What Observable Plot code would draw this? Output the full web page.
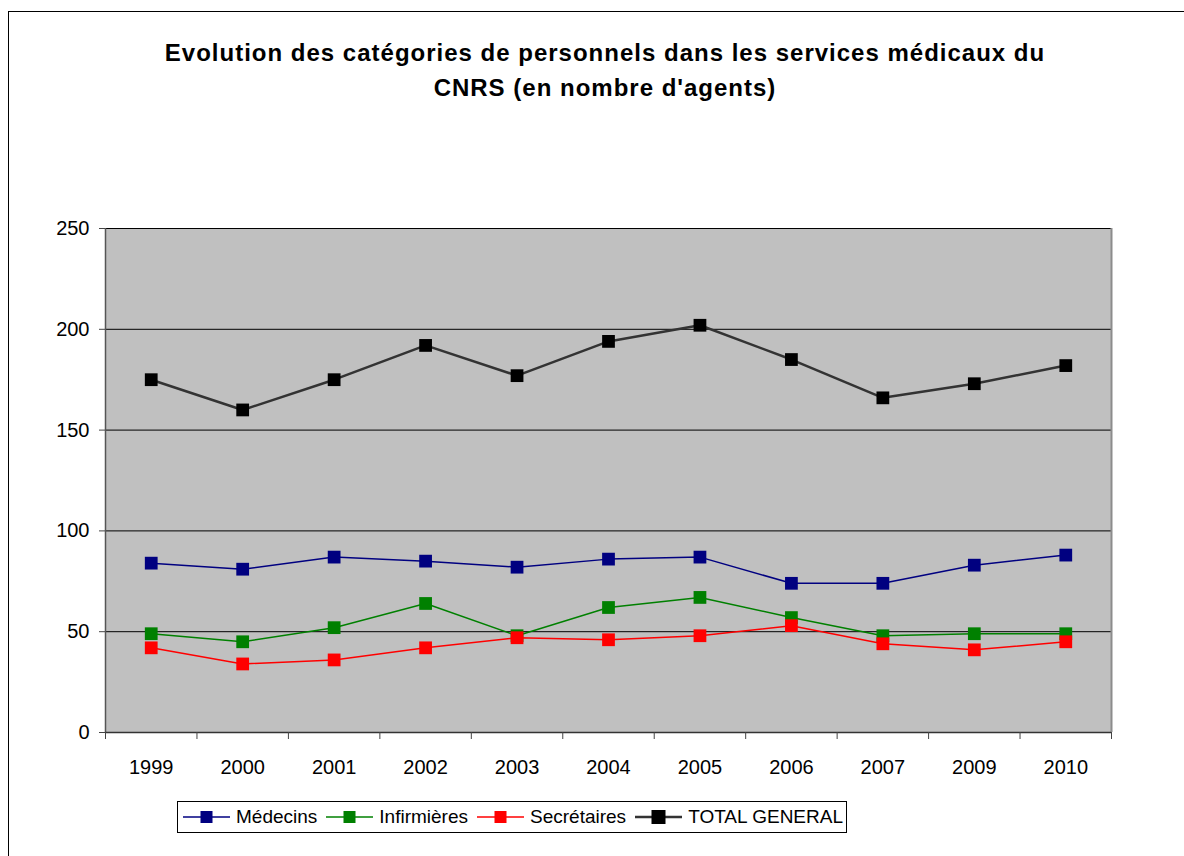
<!DOCTYPE html>
<html>
<head>
<meta charset="utf-8">
<script src="https://cdn.jsdelivr.net/npm/d3@7"></script>
<script src="https://cdn.jsdelivr.net/npm/@observablehq/plot@0.6"></script>
<style>
  html, body { margin: 0; padding: 0; background: #fff; }
  body { width: 1184px; height: 856px; overflow: hidden; position: relative; font-family: "Liberation Sans", Arial, sans-serif; }
  #frame { position: absolute; left: 8px; top: 11px; width: 1200px; height: 900px; border-left: 1px solid #000; border-top: 1px solid #000; }
  #chart { position: absolute; left: 0; top: 0; }
  #title { position: absolute; left: 0; top: 35px; width: 1210px; text-align: center; font-weight: bold; font-size: 24px; letter-spacing: 1px; line-height: 35px; color: #000; }
  #legend { position: absolute; left: 177px; top: 801px; width: 670px; height: 32px; border: 1px solid #000; display: flex; align-items: center; font-size: 19px; color: #000; background: #fff; padding-left: 5px; box-sizing: border-box; }
  .item { display: flex; align-items: center; margin-right: 9px; white-space: nowrap; }
  .item svg { margin-right: 6px; }
</style>
</head>
<body>
<div id="frame"></div>
<div id="chart"></div>
<div id="title">Evolution des catégories de personnels dans les services médicaux du<br>CNRS (en nombre d'agents)</div>
<div id="legend"></div>
<script>
const years = ["1999","2000","2001","2002","2003","2004","2005","2006","2007","2009","2010"];
const medecins = [84, 81, 87, 85, 82, 86, 87, 74, 74, 83, 88];
const infirmieres = [49, 45, 52, 64, 48, 62, 67, 57, 48, 49, 49];
const secretaires = [42, 34, 36, 42, 47, 46, 48, 53, 44, 41, 45];
const total = [175, 160, 175, 192, 177, 194, 202, 185, 166, 173, 182];
const seriesNames = ["Médecins", "Infirmières", "Secrétaires", "TOTAL GENERAL"];
const seriesColors = ["#000080", "#008000", "#FF0000", "#000000"];
const lineColors = ["#000080", "#008000", "#FF0000", "#333333"];
const lineWidths = [1.5, 1.5, 1.5, 2.5];
const yTicks = [0, 50, 100, 150, 200, 250];

const seriesValues = [medecins, infirmieres, secretaires, total];
const data = [];
seriesValues.forEach((vals, s) => vals.forEach((v, i) => data.push({series: seriesNames[s], idx: i, year: years[i], value: v})));

const idx = years.map((_, i) => i);
const bounds = [...idx.map(i => i - 0.5), years.length - 0.5];

const marks = [
  Plot.frame({fill: "#c0c0c0", stroke: "none"}),
  Plot.ruleY(yTicks.filter(d => d > 0), {stroke: "#000", strokeWidth: 1}),
  Plot.ruleX([years.length - 0.5], {stroke: "#8c8c8c", strokeWidth: 2}),
  Plot.ruleX([-0.5], {stroke: "#555", strokeWidth: 1.5}),
  Plot.ruleY([0], {stroke: "#333", strokeWidth: 1.5}),
  Plot.axisY({ticks: yTicks, tickSize: 6, tickPadding: 10, tickFormat: d => String(d), stroke: "#444", fontSize: 20, label: null}),
  Plot.axisX({ticks: bounds, tickSize: 7, tickFormat: () => "", stroke: "#444", label: null}),
  Plot.axisX({ticks: idx, tickSize: 0, tickPadding: 27, tickFormat: i => years[i], fontSize: 20, label: null})
];
seriesNames.forEach((name, s) => {
  const d = data.filter(r => r.series === name);
  marks.push(Plot.line(d, {x: "idx", y: "value", stroke: lineColors[s], strokeWidth: lineWidths[s]}));
  marks.push(Plot.dot(d, {x: "idx", y: "value", symbol: "square", r: 7.2, fill: seriesColors[s], stroke: "none"}));
});

const chart = Plot.plot({
  width: 1184,
  height: 856,
  marginLeft: 105,
  marginRight: 73,
  marginTop: 228,
  marginBottom: 124,
  x: {type: "linear", domain: [-0.5, years.length - 0.5]},
  y: {domain: [0, 250]},
  style: {fontFamily: "'Liberation Sans', Arial, sans-serif", fontSize: "20px", color: "#000", background: "transparent"},
  marks
});
document.getElementById("chart").appendChild(chart);

const legend = document.getElementById("legend");
seriesNames.forEach((name, s) => {
  const item = document.createElement("div");
  item.className = "item";
  const ns = "http://www.w3.org/2000/svg";
  const sw = document.createElementNS(ns, "svg");
  sw.setAttribute("width", 47); sw.setAttribute("height", 16);
  const ln = document.createElementNS(ns, "line");
  ln.setAttribute("x1", 0); ln.setAttribute("x2", 47); ln.setAttribute("y1", 8); ln.setAttribute("y2", 8);
  ln.setAttribute("stroke", lineColors[s]); ln.setAttribute("stroke-width", lineWidths[s]);
  const rc = document.createElementNS(ns, "rect");
  const sz = s === 3 ? 14 : 12;
  rc.setAttribute("x", 23.5 - sz / 2); rc.setAttribute("y", 8 - sz / 2); rc.setAttribute("width", sz); rc.setAttribute("height", sz);
  rc.setAttribute("fill", seriesColors[s]);
  sw.appendChild(ln); sw.appendChild(rc);
  const tx = document.createElement("span");
  tx.textContent = name;
  item.appendChild(sw); item.appendChild(tx);
  legend.appendChild(item);
});
</script>
</body>
</html>
